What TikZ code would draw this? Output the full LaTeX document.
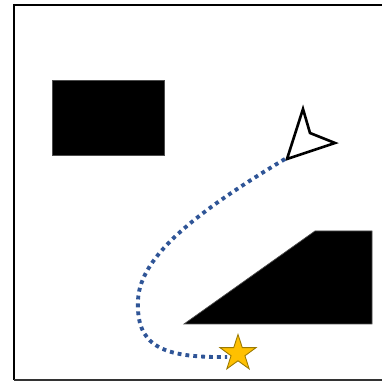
\documentclass[tikz,border=0pt]{standalone}
\usepackage{xcolor}
\usepackage{tikz}
\usetikzlibrary{shapes.geometric, positioning}
\definecolor{pathBlue}{HTML}{2F5597}
\definecolor{goalGold}{HTML}{FFC000}
\definecolor{goalEdge}{HTML}{9C7A00}

\begin{document}
\begin{tikzpicture}[x=0.02cm, y=-0.02cm,
  obstacle/.style={fill=black, draw=black!70, line width=0.4pt},
  robot/.style={draw=black, fill=white, line width=1.5pt, line join=miter},
  route/.style={draw=pathBlue, line width=2.2pt, dash pattern=on 2.2pt off 2.3pt},
  goal/.style={star, star points=5, star point ratio=2.6, minimum size=0.76cm,
               inner sep=0pt, fill=goalGold, draw=goalEdge, line width=0.5pt}
]
  \useasboundingbox (0,0) rectangle (382,381);
  \begin{scope}
    \clip (0,0) rectangle (382,381);
    % frame
    \draw[line width=1.7pt] (14,4) -- (14,380);
    \draw[line width=1.2pt] (14,5) -- (395,5);
    \draw[line width=0.8pt, black!80] (14,380) -- (395,380);
  \end{scope}

  % obstacles
  \draw[obstacle] (52,80) rectangle (164,155);
  \draw[obstacle] (184,324) -- (315,231) -- (372,231) -- (372,324) -- cycle;

  % robot
  \draw[robot] (303,109) -- (287,159) -- (335,143) -- (310,133) -- cycle;
  \coordinate (start) at (285,159);

  % goal
  \node[goal] (target) at (238,353.5) {};

  % planned route
  \draw[route] (start) .. controls (200,210) and (140,255) .. (138,300)
    .. controls (136,345) and (160,358) .. (target.west |- 0,357);
\end{tikzpicture}
\end{document}
